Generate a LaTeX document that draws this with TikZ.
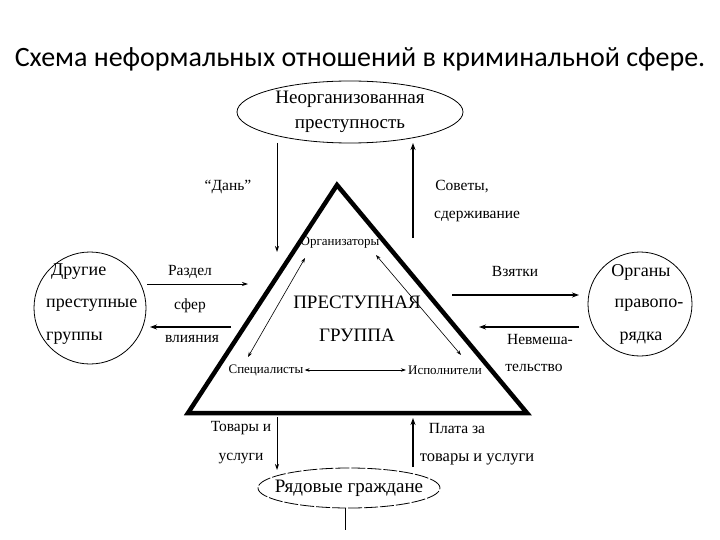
\documentclass[tikz,border=0pt]{standalone}
\usepackage{fontspec}
\setmainfont{Liberation Serif}
\newfontfamily\titlefont{Carlito}
\usetikzlibrary{shapes.geometric,arrows.meta}
\begin{document}
\begin{tikzpicture}[x=1pt,y=-1pt,
  lbl/.style={font=\fontsize{15.5}{17}\selectfont, inner sep=0pt},
  sml/.style={font=\fontsize{13}{15}\selectfont, inner sep=0pt},
  big/.style={font=\fontsize{18}{20}\selectfont, inner sep=0pt},
  thin arrow/.style={line width=0.8pt, -{Stealth[length=6pt,width=4pt]}},
  thick arrow/.style={line width=2pt, -{Stealth[length=7pt,width=5pt]}},
  dbl arrow/.style={line width=0.6pt, {Stealth[length=5pt,width=3.5pt]}-{Stealth[length=5pt,width=3.5pt]}},
  oval/.style={draw, ellipse, line width=0.8pt, inner sep=0pt}
]
\useasboundingbox (0,0) rectangle (720,540);
% title
\node[font=\titlefont\fontsize{28}{32}\selectfont, inner sep=0pt] (title) at (360,59) {Схема неформальных отношений в криминальной сфере.};
% top ellipse
\node[oval, minimum width=226pt, minimum height=62pt] (top) at (350,112) {};
\node[align=center, inner sep=0pt, font=\fontsize{19}{25}\selectfont] (toptext) at (top.center) {Неорганизованная\\преступность};
% triangle
\coordinate (apex) at (337,185);
\coordinate (bl) at (188,413);
\coordinate (br) at (527,413);
\draw[line width=4.5pt, line join=miter] (apex) -- (bl) -- (br) -- cycle;
% inner labels
\node[sml] (org) at (340,243) {Организаторы};
\node[big, font=\fontsize{19}{21}\selectfont] (pg1) at (357,302) {ПРЕСТУПНАЯ};
\node[big, font=\fontsize{19}{21}\selectfont] (pg2) at (357,335) {ГРУППА};
\node[sml] (spec) at (266,370) {Специалисты};
\node[sml] (isp) at (445,370) {Исполнители};
% inner arrows
\coordinate (a1) at (248,357);
\coordinate (a2) at (305,258);
\coordinate (b1) at (376,255);
\coordinate (b2) at (461,355);
\draw[dbl arrow] (a1) -- (a2);
\draw[dbl arrow] (b1) -- (b2);
\draw[dbl arrow] ([xshift=1pt]spec.east) -- ([xshift=-2pt]isp.west);
% top arrows
\coordinate (d1) at (277,143);
\coordinate (d2) at (277,252);
\draw[thin arrow] (d1) -- (d2);
\coordinate (e1) at (413,238);
\coordinate (e2) at (413,143);
\draw[thick arrow] (e1) -- (e2);
\node[lbl] (dan) at (228,187) {“Дань”};
\node[lbl] (sov) at (462,187) {Советы,};
\node[lbl, anchor=west] (sder) at (434,216) {сдерживание};
% left circle
\node[draw, circle, line width=0.8pt, minimum size=112pt, inner sep=0pt] (left) at (90,308) {};
\node[big, anchor=west] (l1) at (51,272) {Другие};
\node[big, anchor=west] (l2) at (46,305) {преступные};
\node[big, anchor=west] (l3) at (46,338) {группы};
\coordinate (f1) at (147,284);
\coordinate (f2) at (248,284);
\draw[thin arrow] (f1) -- (f2);
\coordinate (g1) at (231,327);
\coordinate (g2) at (150,327);
\draw[thick arrow] (g1) -- (g2);
\node[lbl] (r1) at (190,272) {Раздел};
\node[lbl] (r2) at (190,306) {сфер};
\node[lbl] (r3) at (192,339) {влияния};
% right circle
\node[draw, circle, line width=0.8pt, minimum size=104pt, inner sep=0pt] (right) at (640,304) {};
\node[big] (o1) at (641,272) {Органы};
\node[big] (o2) at (649,305) {правопо-};
\node[big] (o3) at (641,338) {рядка};
\coordinate (h1) at (452,295);
\coordinate (h2) at (579,295);
\draw[thick arrow] (h1) -- (h2);
\coordinate (i1) at (579,327);
\coordinate (i2) at (479,327);
\draw[thick arrow] (i1) -- (i2);
\node[lbl] (vz) at (515,272) {Взятки};
\node[lbl] (nv1) at (540,339) {Невмеша-};
\node[lbl] (nv2) at (534,368) {тельство};
% bottom
\coordinate (j1) at (277,417);
\coordinate (j2) at (277,470);
\draw[thin arrow] (j1) -- (j2);
\coordinate (k1) at (413,467);
\coordinate (k2) at (413,418);
\draw[line width=1.6pt, -{Stealth[length=7pt,width=5pt]}] (k1) -- (k2);
\node[lbl] (t1) at (241,428) {Товары и};
\node[lbl] (t2) at (241,459) {услуги};
\node[lbl] (p1) at (457,428) {Плата за};
\node[lbl, font=\fontsize{16.5}{18}\selectfont] (p2) at (477,459) {товары и услуги};
\node[oval, dashed, dash pattern=on 14pt off 2pt, minimum width=182pt, minimum height=40pt] (bot) at (349,488) {};
\node[inner sep=0pt, font=\fontsize{19}{21}\selectfont] (bottext) at (bot.center) {Рядовые граждане};
\coordinate (m1) at (345,530);
\draw[line width=0.8pt] ([xshift=-4pt]bot.south) -- (m1);
\end{tikzpicture}
\end{document}
